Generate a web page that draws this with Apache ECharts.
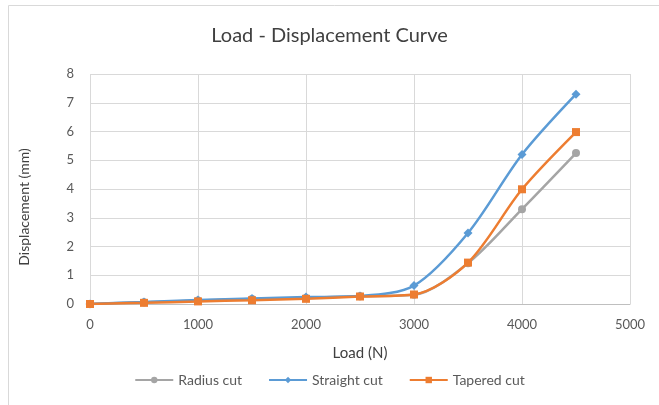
<!DOCTYPE html>
<html><head><meta charset="utf-8">
<script src="https://cdn.jsdelivr.net/npm/echarts@6/dist/echarts.min.js"></script>
<style>html,body{margin:0;padding:0;background:#fff}#c{width:659px;height:405px}</style>
</head><body><div id="c"></div>
<script>
const loads = [0, 500, 1000, 1500, 2000, 2500, 3000, 3500, 4000, 4500];
const radiusCut = [0, 0.06, 0.12, 0.17, 0.21, 0.27, 0.32, 1.42, 3.3, 5.25];
const straightCut = [0, 0.07, 0.14, 0.19, 0.24, 0.28, 0.64, 2.47, 5.2, 7.3];
const taperedCut = [0, 0.04, 0.09, 0.13, 0.18, 0.26, 0.33, 1.44, 3.99, 5.98];
const seriesNames = ['Radius cut', 'Straight cut', 'Tapered cut'];
const FONT = 'Lato, "Open Sans", sans-serif';
const chart = echarts.init(document.getElementById('c'));
const pts = a => loads.map((x, i) => [x, a[i]]);
chart.setOption({
  animation: false,
  graphic: [{type: 'rect', shape: {x: 8.5, y: 5.5, width: 660, height: 400}, style: {fill: 'none', stroke: '#d9d9d9', lineWidth: 1}}],
  title: {text: 'Load - Displacement Curve', left: 'center', top: 21,
    textStyle: {fontFamily: FONT, fontSize: 20, fontWeight: 'normal', color: '#404040'}},
  grid: {left: 90, right: 29, top: 74, bottom: 101},
  legend: {bottom: 13, left: 'center', itemWidth: 38, itemHeight: 8, itemGap: 26,
    textStyle: {fontFamily: FONT, fontSize: 14, color: '#595959'}, data: seriesNames},
  xAxis: {type: 'value', min: 0, max: 5000, interval: 1000,
    name: 'Load (N)', nameLocation: 'middle', nameGap: 42,
    nameTextStyle: {fontFamily: FONT, fontSize: 15, color: '#404040'},
    axisLine: {show: true, lineStyle: {color: '#bfbfbf'}}, axisTick: {show: false},
    axisLabel: {fontFamily: FONT, fontSize: 13, color: '#595959', margin: 14, formatter: v => String(v)},
    splitLine: {show: true, lineStyle: {color: '#d9d9d9'}}},
  yAxis: {type: 'value', min: 0, max: 8, interval: 1,
    name: 'Displacement (mm)', nameLocation: 'middle', nameGap: 58, nameRotate: 90,
    nameTextStyle: {fontFamily: FONT, fontSize: 14, color: '#404040', padding: [0, 36, 0, 0], lineHeight: 16},
    axisLine: {show: false}, axisTick: {show: false},
    axisLabel: {fontFamily: FONT, fontSize: 13, color: '#595959', margin: 16},
    splitLine: {show: true, lineStyle: {color: '#d9d9d9'}}},
  series: [
    {name: seriesNames[0], type: 'line', data: pts(radiusCut), smooth: 0.3, symbol: 'circle', symbolSize: 8,
      itemStyle: {color: '#a5a5a5'}, lineStyle: {width: 2.5, color: '#a5a5a5'}},
    {name: seriesNames[1], type: 'line', data: pts(straightCut), smooth: 0.3, symbol: 'diamond', symbolSize: 9,
      itemStyle: {color: '#5b9bd5'}, lineStyle: {width: 2.5, color: '#5b9bd5'}},
    {name: seriesNames[2], type: 'line', data: pts(taperedCut), smooth: 0.3, symbol: 'rect', symbolSize: 8,
      itemStyle: {color: '#ed7d31'}, lineStyle: {width: 2.5, color: '#ed7d31'}}
  ]
});
</script></body></html>
